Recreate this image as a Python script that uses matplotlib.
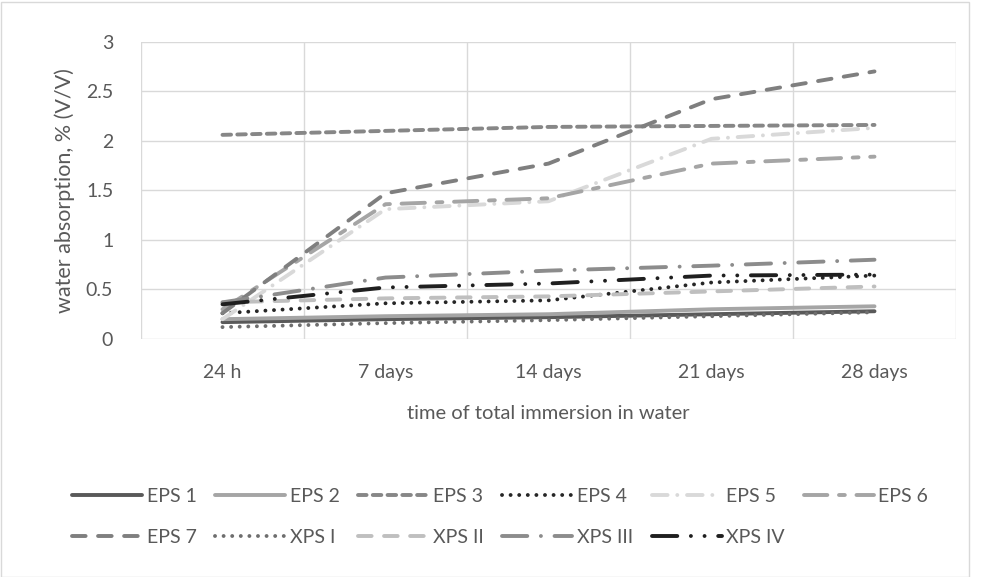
import matplotlib.pyplot as plt
from matplotlib.patches import Rectangle

categories = ['24 h', '7 days', '14 days', '21 days', '28 days']

eps1 = [0.17, 0.20, 0.22, 0.25, 0.28]
eps2 = [0.20, 0.23, 0.25, 0.30, 0.33]
eps3 = [2.06, 2.10, 2.14, 2.15, 2.16]
eps4 = [0.26, 0.36, 0.39, 0.57, 0.64]
eps5 = [0.20, 1.31, 1.39, 2.02, 2.13]
eps6 = [0.30, 1.36, 1.42, 1.77, 1.84]
eps7 = [0.26, 1.47, 1.77, 2.42, 2.70]
xps1 = [0.12, 0.16, 0.19, 0.23, 0.27]
xps2 = [0.37, 0.41, 0.43, 0.48, 0.53]
xps3 = [0.37, 0.62, 0.69, 0.74, 0.80]
xps4 = [0.35, 0.52, 0.56, 0.64, 0.65]

series = [
    ('EPS 1', eps1, '#595959', '-'),
    ('EPS 2', eps2, '#a5a5a5', '-'),
    ('EPS 3', eps3, '#878787', (0, (2.2, 1.6))),
    ('EPS 4', eps4, '#262626', (0, (0.01, 2.2))),
    ('EPS 5', eps5, '#d9d9d9', (0, (4, 2.5, 0.01, 2.5))),
    ('EPS 6', eps6, '#a5a5a5', (0, (6, 3, 1.5, 3))),
    ('EPS 7', eps7, '#7f7f7f', (0, (3.5, 3.2))),
    ('XPS I', xps1, '#6e6e6e', (0, (0.01, 2.2))),
    ('XPS II', xps2, '#bfbfbf', (0, (3.5, 3.2))),
    ('XPS III', xps3, '#8c8c8c', (0, (6.5, 3.5, 0.01, 3.5))),
    ('XPS IV', xps4, '#1f1f1f', (0, (6.5, 3.5, 0.01, 3.5, 0.01, 3.5))),
]

plt.rcParams['font.family'] = ['Lato', 'DejaVu Sans']
txt = '#595959'

fig = plt.figure(figsize=(9.85, 5.77), dpi=100)
ax = fig.add_axes([141 / 985, 1 - 339 / 577, (956 - 141) / 985, (339 - 41.7) / 577])

x = list(range(len(categories)))
lines = []
for name, vals, col, ls in series:
    ln, = ax.plot(x, vals, color=col, linestyle=ls, lw=2.8, label=name,
                  dash_capstyle='round', solid_capstyle='round')
    lines.append(ln)

ax.set_xlim(-0.5, 4.5)
ax.set_ylim(0, 3)
ax.set_yticks([0, 0.5, 1, 1.5, 2, 2.5, 3])
ax.set_yticklabels(['0', '0.5', '1', '1.5', '2', '2.5', '3'])
ax.set_xticks(x)
ax.set_xticklabels(categories)
ax.set_xticks([i + 0.5 for i in range(-1, 5)], minor=True)
ax.grid(False)
ax.grid(True, which='minor', axis='x', color='#d9d9d9', lw=1)
ax.grid(True, which='major', axis='y', color='#d9d9d9', lw=1)
ax.set_axisbelow(True)
for s in ax.spines.values():
    s.set_visible(False)
ax.tick_params(axis='both', which='both', length=0, labelsize=14, colors=txt)
ax.tick_params(axis='x', pad=18)
ax.tick_params(axis='y', pad=20)

ax.set_xlabel('time of total immersion in water', fontsize=14.5, color=txt, labelpad=17)
ax.set_ylabel('water absorption, % (V/V)', fontsize=15.5, color=txt, labelpad=8)

# legend filled row by row, as in the original
order = [0, 6, 1, 7, 2, 8, 3, 9, 4, 10, 5]
leg = fig.legend([lines[i] for i in order], [series[i][0] for i in order],
                 loc='center', bbox_to_anchor=(500 / 985, 1 - 517 / 577), ncol=6,
                 frameon=False, fontsize=14, handlelength=3.6, handletextpad=0.25,
                 columnspacing=0.95, labelspacing=1.25)
for t in leg.get_texts():
    t.set_color(txt)

fig.patches.append(Rectangle((0.5 / 985, 0.5 / 577), 968 / 985, 575 / 577,
                             transform=fig.transFigure, fill=False,
                             edgecolor='#d9d9d9', lw=1))

fig.savefig('out.png', dpi=100)
